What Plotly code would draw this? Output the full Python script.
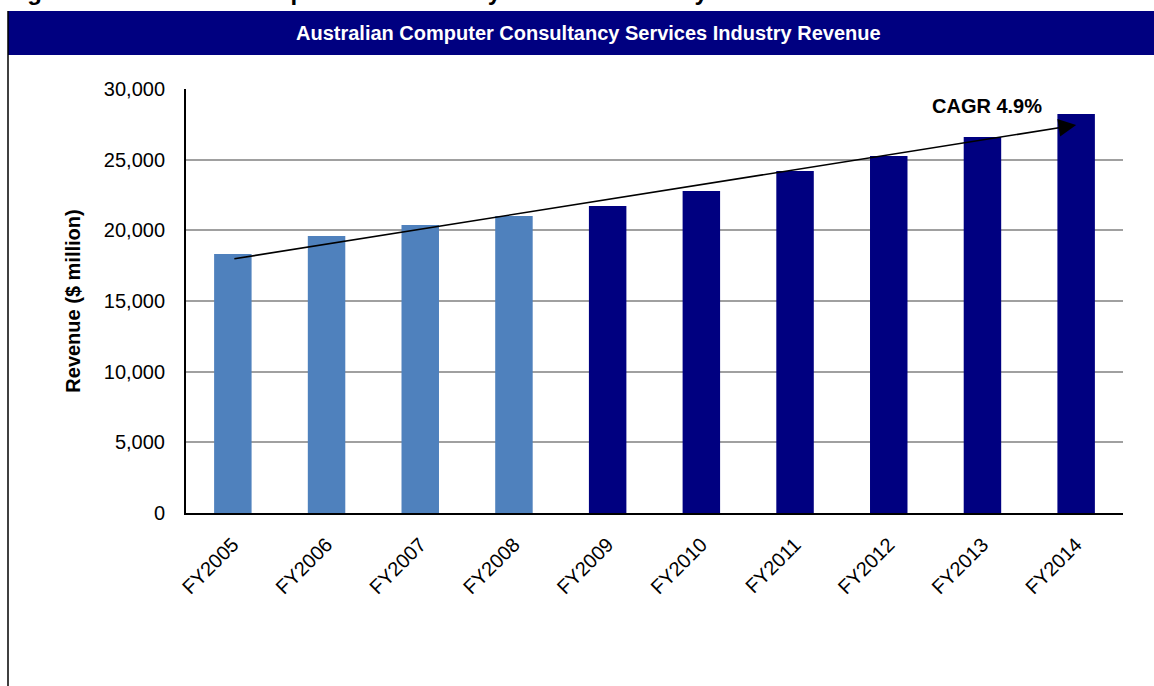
import plotly.graph_objects as go

# ---- data ----
categories = ["FY2005", "FY2006", "FY2007", "FY2008", "FY2009",
              "FY2010", "FY2011", "FY2012", "FY2013", "FY2014"]
revenue = [18330, 19600, 20380, 21020, 21720, 22780, 24200, 25260, 26600, 28230]
historical_count = 4          # first four years shown in light blue
trend_start = 17970           # CAGR arrow start value (FY2005)
trend_end = 27450             # CAGR arrow end value (FY2014)
cagr_label = "CAGR 4.9%"
chart_title = "Australian Computer Consultancy Services Industry Revenue"
figure_caption = "Figure 1: Australian Computer Consultancy Services Industry Revenue"
y_title = "Revenue ($ million)"
y_ticks = [0, 5000, 10000, 15000, 20000, 25000, 30000]

# ---- layout geometry (pixels) ----
W, H = 1154, 686
L, R, T, B = 186, 1123, 89, 513


def px(x):
    return (x - L) / (R - L)


def py(y):
    return (B - y) / (B - T)


LIGHT = "#4F81BD"
DARK = "#000080"
colors = [LIGHT if i < historical_count else DARK for i in range(len(categories))]

FONT = "Liberation Sans, Arial, sans-serif"

fig = go.Figure()
fig.add_trace(go.Bar(
    x=categories, y=revenue,
    marker=dict(color=colors, line=dict(width=0)),
    width=0.4,
    hoverinfo="x+y",
))

fig.update_layout(
    width=W, height=H,
    margin=dict(l=L, r=W - R, t=T, b=H - B, pad=0),
    paper_bgcolor="white", plot_bgcolor="white",
    showlegend=False,
    font=dict(family=FONT, color="#000000"),
    xaxis=dict(
        type="category",
        tickangle=-45,
        tickfont=dict(size=20, family=FONT, color="#000000"),
        showline=True, linecolor="#000000", linewidth=2,
        showgrid=False, ticks="", ticklabelstandoff=10,
        range=[-0.5, len(categories) - 0.5],
    ),
    yaxis=dict(
        range=[0, 30000],
        tickvals=y_ticks,
        tickformat=",",
        tickfont=dict(size=20, family=FONT, color="#000000"),
        showline=True, linecolor="#000000", linewidth=2,
        showgrid=True, gridcolor="#A0A0A0", gridwidth=1.5,
        zeroline=False, ticks="", ticklabelstandoff=15,
        title=dict(text="<b>" + y_title + "</b>",
                   font=dict(size=20, family=FONT, color="#000000"),
                   standoff=18),
    ),
)

shapes = [
    # title bar
    dict(type="rect", xref="paper", yref="paper",
         x0=px(8), x1=px(W + 5), y0=py(55), y1=py(11),
         fillcolor=DARK, line=dict(width=0), layer="above"),
    # outer left border
    dict(type="line", xref="paper", yref="paper",
         x0=px(8), x1=px(8), y0=py(11), y1=py(H + 5),
         line=dict(color="#000000", width=1.5)),
]
fig.update_layout(shapes=shapes)

annotations = [
    dict(text="<b>" + chart_title + "</b>", xref="paper", yref="paper",
         x=px(588), y=py(33), xanchor="center", yanchor="middle",
         showarrow=False, font=dict(size=20, color="white", family=FONT)),
    dict(text="<b>" + figure_caption + "</b>", xref="paper", yref="paper",
         x=px(4), y=py(-8), xanchor="left", yanchor="middle",
         showarrow=False, font=dict(size=24, color="#000000", family=FONT)),
    dict(text="<b>" + cagr_label + "</b>", xref="paper", yref="paper",
         x=px(987), y=py(106), xanchor="center", yanchor="middle",
         showarrow=False, font=dict(size=20, color="#000000", family=FONT)),
    dict(x=categories[-1], y=trend_end, xref="x", yref="y",
         ax=categories[0], ay=trend_start, axref="x", ayref="y",
         text="", showarrow=True, arrowhead=2, arrowsize=2.2,
         arrowwidth=1.6, arrowcolor="#000000", standoff=0),
]
fig.update_layout(annotations=annotations)

fig.write_html("out.html")
